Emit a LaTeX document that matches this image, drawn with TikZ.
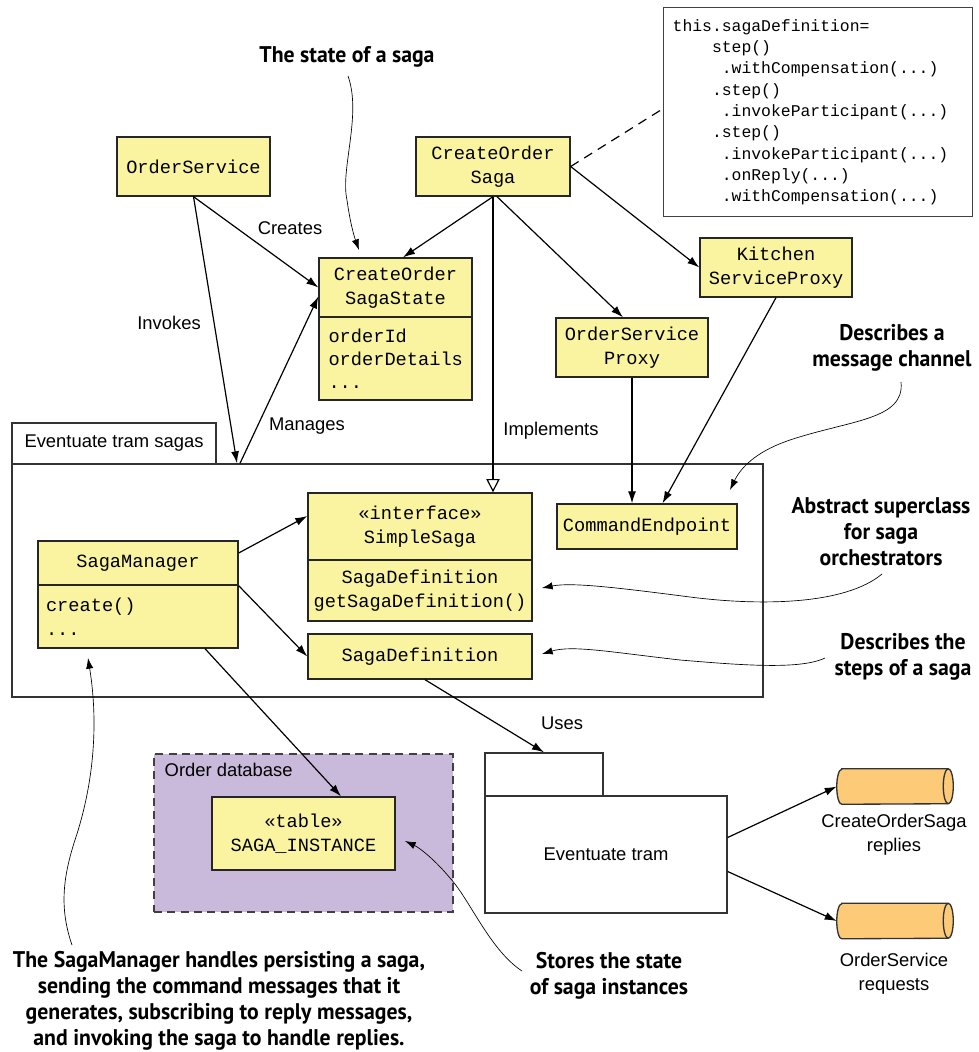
\documentclass[tikz,border=0pt]{standalone}
\usepackage{fontspec}
\setsansfont{Liberation Sans}
\setmonofont{Liberation Mono}
\newfontfamily\notefont{PT Sans}[FakeStretch=0.96]
\usepackage{tikz}
\usetikzlibrary{arrows.meta}
\definecolor{boxyellow}{RGB}{250,244,160}
\definecolor{dbpurple}{RGB}{201,185,218}
\definecolor{chanorange}{RGB}{253,202,120}
\newdimen\pxu \pxu=0.75pt
\tikzset{
  cls/.style={draw=black!85,line width=1pt,fill=boxyellow,align=center,inner sep=0pt,
    font=\ttfamily\fontsize{14}{18}\selectfont},
  pkg/.style={draw=black!80,line width=1pt,fill=white,inner sep=0pt,
    font=\sffamily\fontsize{13.8}{18}\selectfont},
  lbl/.style={align=center,font=\sffamily\fontsize{13.8}{18}\selectfont},
  conn/.style={line width=0.9pt,-{Latex[length=9pt,width=6pt]}},
  note/.style={align=center,font=\notefont\bfseries\fontsize{17}{19.5}\selectfont},
  notearrow/.style={line width=0.5pt,-{Latex[length=8pt,width=5.5pt]}},
  chan/.style={minimum width=116\pxu,minimum height=35\pxu,inner sep=0pt},
  chanline/.style={draw=black!80,line width=1pt}
}
\begin{document}
\begin{tikzpicture}[x=0.75pt,y=-0.75pt]
\useasboundingbox (0,0) rectangle (978,1052);
\node[cls,minimum width=153\pxu,minimum height=59\pxu] (ordsvc) at (193.5,166.5) {OrderService};
\node[cls,minimum width=154\pxu,minimum height=59\pxu] (cosaga) at (493,166.5) {CreateOrder\\Saga};
\node[cls,minimum width=153\pxu,minimum height=59\pxu] (stateHd) at (395.5,287.5) {CreateOrder\\SagaState};
\node[cls,minimum width=153\pxu,minimum height=83\pxu,text width=134\pxu,inner xsep=9.5\pxu,align=left,
  font=\ttfamily\fontsize{14}{17.25}\selectfont] (stateBd) at (395.5,358.5) {orderId\\orderDetails\\...};
\node[cls,minimum width=152\pxu,minimum height=59\pxu] (kitchen) at (776,267.5) {Kitchen\\ServiceProxy};
\node[cls,minimum width=152\pxu,minimum height=59\pxu] (osproxy) at (632,347.5) {OrderService\\Proxy};
\node[draw=black!75,line width=1pt,fill=white,anchor=north west,inner xsep=9\pxu,inner ysep=0pt,
  text width=291\pxu,minimum height=209\pxu,align=left,
  font=\ttfamily\fontsize{12.3}{16}\selectfont] (sagacode) at (663,7) {this.sagaDefinition=\\
\hphantom{0000}step()\\
\hphantom{00000}.withCompensation(...)\\
\hphantom{0000}.step()\\
\hphantom{00000}.invokeParticipant(...)\\
\hphantom{0000}.step()\\
\hphantom{00000}.invokeParticipant(...)\\
\hphantom{00000}.onReply(...)\\
\hphantom{00000}.withCompensation(...)};

\node[pkg,minimum width=204\pxu,minimum height=41\pxu] (sagatab) at (114,443.5) {Eventuate tram sagas};
\node[pkg,minimum width=751\pxu,minimum height=233\pxu] (sagapkg) at (387.5,580.5) {};
\node[cls,minimum width=200\pxu,minimum height=44\pxu] (mgrHd) at (138,563) {SagaManager};
\node[cls,minimum width=200\pxu,minimum height=63\pxu,text width=184\pxu,inner xsep=8\pxu,align=left] (mgrBd) at (138,616.5) {create()\\...};
\node[cls,minimum width=224\pxu,minimum height=67\pxu] (simpleHd) at (420,526.5) {«interface»\\SimpleSaga};
\node[cls,minimum width=224\pxu,minimum height=61\pxu] (simpleBd) at (420,590.5) {SagaDefinition\\getSagaDefinition()};
\node[cls,minimum width=224\pxu,minimum height=45\pxu] (sagadef) at (420,656.5) {SagaDefinition};
\node[cls,minimum width=180\pxu,minimum height=45\pxu] (cmdend) at (647,526.5) {CommandEndpoint};

\node[draw=black!75,dashed,dash pattern=on 6pt off 4pt,line width=1pt,fill=dbpurple,
  minimum width=299\pxu,minimum height=158\pxu,inner sep=0pt] (orderdb) at (303.5,833) {};
\node[lbl,anchor=west] (dblbl) at (160,770) {Order database};
\node[cls,minimum width=183\pxu,minimum height=73\pxu] (sagainst) at (303.5,833.5) {«table»\\SAGA\_INSTANCE};

\node[pkg,minimum width=118\pxu,minimum height=43\pxu] (tramtab) at (544,774.5) {};
\node[pkg,minimum width=242\pxu,minimum height=117\pxu] (trambd) at (606,854.5) {Eventuate tram};
\node[chan] (replych) at (895,786.5) {};
\node[chan] (reqch) at (895,921) {};
\foreach \ch in {replych,reqch} {
  \draw[chanline,fill=chanorange] ([xshift=5\pxu]\ch.north west) -- ([xshift=-5\pxu]\ch.north east)
    arc[start angle=90,end angle=-90,x radius=5\pxu,y radius=17.5\pxu]
    -- ([xshift=5\pxu]\ch.south west)
    arc[start angle=270,end angle=90,x radius=5\pxu,y radius=17.5\pxu] -- cycle;
  \draw[chanline] ([xshift=-5\pxu]\ch.north east)
    arc[start angle=90,end angle=270,x radius=5\pxu,y radius=17.5\pxu];
}
\node[lbl] (replylbl) at (894,835) {CreateOrderSaga\\replies};
\node[lbl] (reqlbl) at (894,973.5) {OrderService\\requests};

\draw[conn] (ordsvc.south) -- (stateHd.west);
\draw[conn] (ordsvc.south) -- (237,0 |- sagapkg.north);
\draw[conn] (240,0 |- sagapkg.north) -- ([yshift=-9\pxu]stateHd.west);
\draw[conn] (cosaga.south) -- ([xshift=7.5\pxu]stateHd.north);
\draw[conn] (cosaga.east) -- (kitchen.west);
\draw[conn] ([xshift=4\pxu]cosaga.south) -- ([xshift=-9\pxu]osproxy.north);
\draw[line width=0.9pt,-{Triangle[open,length=10pt,width=10pt]}] (cosaga.south) -- (cosaga.south |- simpleHd.north);
\draw[line width=0.9pt,dash pattern=on 7pt off 5pt] (cosaga.east) -- ([yshift=3.5\pxu]sagacode.west);
\draw[conn] (osproxy.south) -- (osproxy.south |- cmdend.north);
\draw[conn] (kitchen.south) -- ([xshift=15.5\pxu]cmdend.north);
\draw[conn] ([yshift=10\pxu]mgrHd.east) -- ([yshift=10.5\pxu]simpleHd.west);
\draw[conn] (mgrHd.south east) -- (sagadef.west);
\draw[conn] ([xshift=67\pxu]mgrBd.south) -- ([xshift=37.5\pxu]sagainst.north);
\draw[conn] ([xshift=5\pxu]sagadef.south) -- (tramtab.north);
\draw[conn] ([yshift=17\pxu]trambd.east) -- (replych.west);
\draw[conn] ([yshift=-17\pxu]trambd.east) -- (reqch.west);

\node[lbl] (createslbl) at (290,228) {Creates};
\node[lbl] (invokeslbl) at (169,323) {Invokes};
\node[lbl] (manageslbl) at (307,426) {Manages};
\node[lbl] (implbl) at (551,431) {Implements};
\node[lbl] (useslbl) at (562,723) {Uses};

\node[note] (statenote) at (347,57) {The state of a saga};
\node[note] (channote) at (892,348) {Describes a\\message channel};
\node[note] (abstnote) at (881,532) {Abstract superclass\\for saga\\orchestrators};
\node[note] (stepsnote) at (903,656.5) {Describes the\\steps of a saga};
\node[note] (mgrnote) at (219,1001) {The SagaManager handles persisting a saga,\\sending the command messages that it\\generates, subscribing to reply messages,\\and invoking the saga to handle replies.};
\node[note] (storenote) at (609,975.5) {Stores the state\\of saga instances};

\coordinate (statetip) at (359,250);
\coordinate (chantip) at (730,490);
\coordinate (absttip) at (542,588);
\coordinate (stepstip) at (542,654);
\coordinate (mgrtip) at (88,658);
\coordinate (storetip) at (405,841);
\draw[notearrow] (348,76) .. controls (362,115) and (340,170) .. (347,200) .. controls (350,222) and (354,236) .. (statetip);
\draw[notearrow] (901,382) .. controls (905,420) and (850,420) .. (790,440) .. controls (760,450) and (742,465) .. (chantip);
\draw[notearrow] (882,574) .. controls (845,605) and (760,606) .. (690,597) .. controls (620,588) and (572,582) .. (absttip);
\draw[notearrow] (825,658) .. controls (800,670) and (740,665) .. (680,660) .. controls (610,652) and (572,645) .. (stepstip);
\draw[notearrow] (72,945) .. controls (60,910) and (62,880) .. (75,840) .. controls (95,780) and (98,720) .. (mgrtip);
\draw[notearrow] (522,971) .. controls (490,950) and (470,900) .. (450,878) .. controls (435,860) and (420,848) .. (storetip);
\end{tikzpicture}
\end{document}
